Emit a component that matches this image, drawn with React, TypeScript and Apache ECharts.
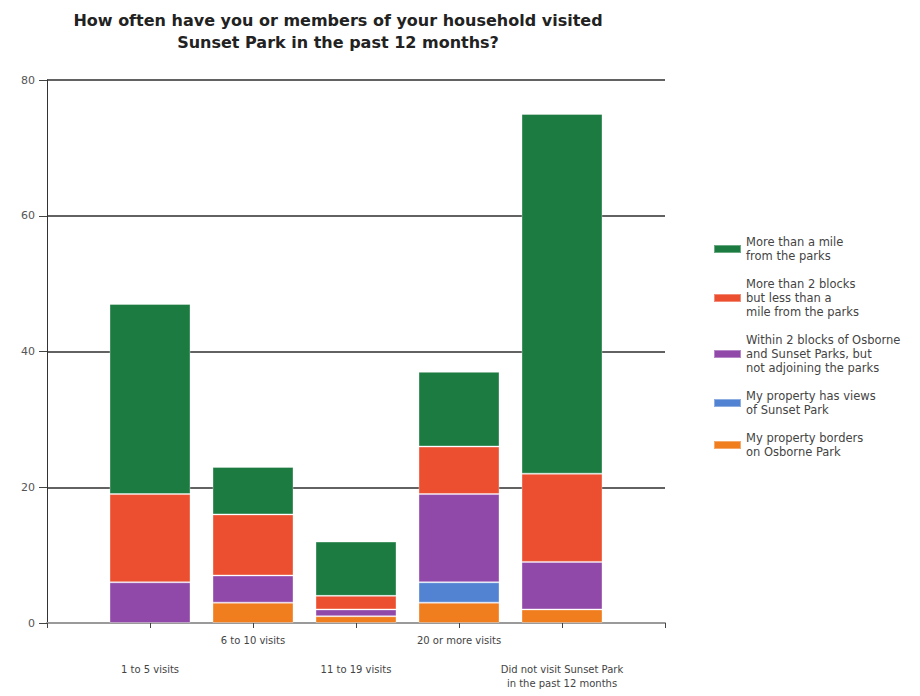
import React, { useEffect, useRef } from "react";
import * as echarts from "echarts";

const categories = ["", "1 to 5 visits", "6 to 10 visits", "11 to 19 visits", "20 or more visits", "Did not visit Sunset Park\nin the past 12 months", ""];
const lowerLabels = ["1 to 5 visits", "11 to 19 visits", "Did not visit Sunset Park\nin the past 12 months"];

const seriesNames = [
  "My property borders\non Osborne Park",
  "My property has views\nof Sunset Park",
  "Within 2 blocks of Osborne\nand Sunset Parks, but\nnot adjoining the parks",
  "More than 2 blocks\nbut less than a\nmile from the parks",
  "More than a mile\nfrom the parks",
];
const bordersOsborne = [null, 0, 3, 1, 3, 2, null];
const viewsSunset = [null, 0, 0, 0, 3, 0, null];
const within2Blocks = [null, 6, 4, 1, 13, 7, null];
const moreThan2Blocks = [null, 13, 9, 2, 7, 13, null];
const moreThanMile = [null, 28, 7, 8, 11, 53, null];
const seriesValues = [bordersOsborne, viewsSunset, within2Blocks, moreThan2Blocks, moreThanMile];
const seriesColors = ["#f07d1e", "#5283d3", "#9149a9", "#ec4f30", "#1c7b41"];

const yTicks = { min: 0, max: 80, interval: 20 };

export default function App() {
  const ref = useRef<HTMLDivElement>(null);
  useEffect(() => {
    if (!ref.current) return;
    const chart = echarts.init(ref.current, null, { renderer: "svg" });
    const font = "DejaVu Sans";
    chart.setOption({
      animation: false,
      backgroundColor: "#ffffff",
      title: {
        text: "How often have you or members of your household visited\nSunset Park in the past 12 months?",
        left: 333,
        top: 4,
        textAlign: "center",
        textStyle: { fontFamily: "DejaVu Sans", fontSize: 16, fontWeight: "bold", lineHeight: 22, color: "#222" },
      },
      legend: {
        orient: "vertical",
        left: 708,
        top: 230,
        itemWidth: 27,
        itemHeight: 8,
        itemGap: 14,
        icon: "rect",
        data: [...seriesNames].reverse(),
        textStyle: { fontFamily: font, fontSize: 11.5, lineHeight: 14, color: "#444" },
      },
      grid: { left: 47, right: 255, top: 80, bottom: 73 },
      xAxis: {
        type: "category",
        data: categories,
        boundaryGap: false,
        axisLine: { lineStyle: { color: "#9a9a9a", width: 2 } },
        axisTick: { show: true, length: 5, lineStyle: { color: "#444" } },
        axisLabel: {
          interval: 0,
          margin: 10,
          fontFamily: font,
          fontSize: 10,
          lineHeight: 14.5,
          color: "#444",
          formatter: (v: string) => (lowerLabels.includes(v) ? "\n\n" + v : v),
        },
      },
      yAxis: {
        type: "value",
        min: yTicks.min,
        max: yTicks.max,
        interval: yTicks.interval,
        axisLine: { show: true, lineStyle: { color: "#333", width: 1 } },
        axisTick: { show: true, length: 8, lineStyle: { color: "#444" } },
        axisLabel: { fontFamily: font, fontSize: 11, color: "#555", margin: 12 },
        splitLine: { lineStyle: { color: "#626262", width: 1.8 } },
      },
      series: seriesNames.map((name, i) => ({
        name,
        type: "bar",
        stack: "total",
        barWidth: 81,
        data: seriesValues[i].map((v) => (v === 0 ? null : v)),
        itemStyle: { color: seriesColors[i], borderColor: "rgba(255,255,255,0.35)", borderWidth: 1 },
      })),
    });
    return () => chart.dispose();
  }, []);
  return <div ref={ref} style={{ position: "fixed", left: 0, top: 0, width: 920, height: 696 }} />;
}
